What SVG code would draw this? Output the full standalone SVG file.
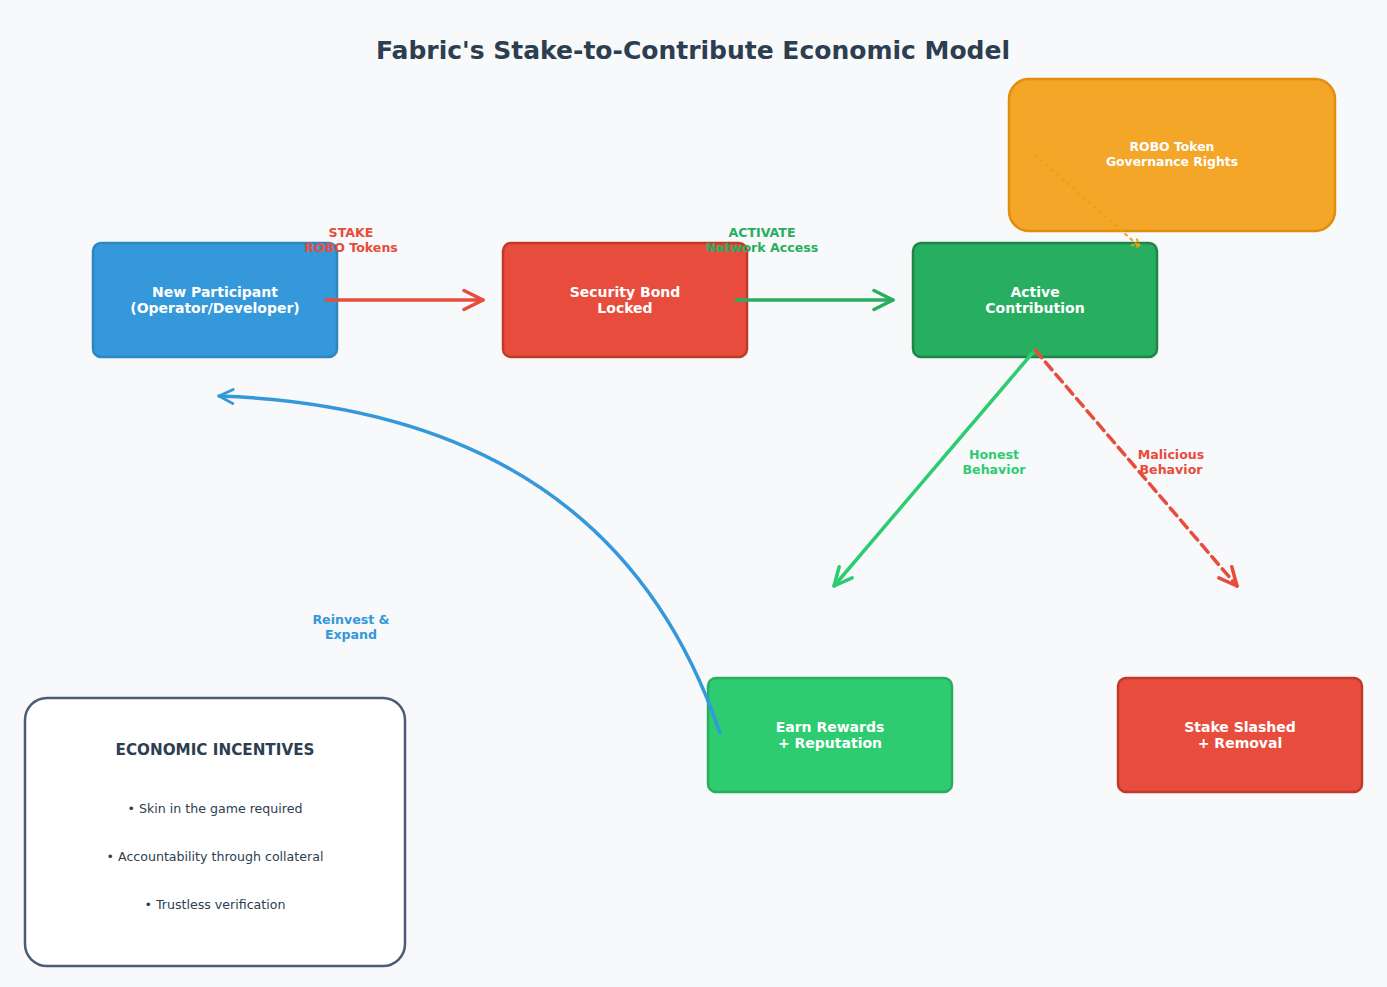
<svg xmlns="http://www.w3.org/2000/svg" width="1387" height="987" viewBox="0 0 1387 987">
<defs>
<style>
text{font-family:"DejaVu Sans","Liberation Sans",sans-serif;text-anchor:middle}
.title{font-size:25px;font-weight:bold;fill:#2c3e50}
.nt{font-size:14px;font-weight:bold;fill:#ffffff}
.lbl{font-size:12.6px;font-weight:bold}
.box{stroke-width:2.5}
.conn{fill:none;stroke-width:3.5;stroke-linecap:round}
.bul{font-size:12.6px;fill:#2c3e50}
</style>
<marker id="mRed" viewBox="0 0 24 24" refX="22" refY="12" markerWidth="24" markerHeight="24" markerUnits="userSpaceOnUse" orient="auto"><path d="M3,2.5 L22,12 L3,21.5" fill="none" stroke="#e74c3c" stroke-width="3.5" stroke-linecap="round" stroke-linejoin="round"/></marker>
<marker id="mGreen" viewBox="0 0 24 24" refX="22" refY="12" markerWidth="24" markerHeight="24" markerUnits="userSpaceOnUse" orient="auto"><path d="M3,2.5 L22,12 L3,21.5" fill="none" stroke="#27ae60" stroke-width="3.5" stroke-linecap="round" stroke-linejoin="round"/></marker>
<marker id="mLGreen" viewBox="0 0 24 24" refX="22" refY="12" markerWidth="24" markerHeight="24" markerUnits="userSpaceOnUse" orient="auto"><path d="M4,3.5 L22,12 L4,20.5" fill="none" stroke="#2ecc71" stroke-width="3.5" stroke-linecap="round" stroke-linejoin="round"/></marker>
<marker id="mRedD" viewBox="0 0 24 24" refX="22" refY="12" markerWidth="24" markerHeight="24" markerUnits="userSpaceOnUse" orient="auto"><path d="M4,3.5 L22,12 L4,20.5" fill="none" stroke="#e74c3c" stroke-width="3.5" stroke-linecap="round" stroke-linejoin="round"/></marker>
<marker id="mBlue" viewBox="0 0 20 20" refX="18" refY="10" markerWidth="20" markerHeight="20" markerUnits="userSpaceOnUse" orient="auto"><path d="M4,3 L18,10 L4,17" fill="none" stroke="#3498db" stroke-width="2.8" stroke-linecap="round" stroke-linejoin="round"/></marker>
<marker id="mOrange" viewBox="0 0 12 12" refX="10" refY="6" markerWidth="12" markerHeight="12" markerUnits="userSpaceOnUse" orient="auto"><path d="M2,2 L10,6 L2,10" fill="none" stroke="#f39c12" stroke-width="2" stroke-dasharray="3,2"/></marker>
</defs>
<rect x="0" y="0" width="1387" height="987" fill="#f8f9fa"/>
<text class="title" x="693" y="59">Fabric's Stake-to-Contribute Economic Model</text>

<g id="node-participant">
<rect class="box" x="93" y="243" width="244" height="114" rx="8" fill="#3498db" stroke="#2e86c1"/>
<text class="nt" x="215" y="297">New Participant</text>
<text class="nt" x="215" y="313">(Operator/Developer)</text>
</g>
<g id="node-bond">
<rect class="box" x="503" y="243" width="244" height="114" rx="8" fill="#e74c3c" stroke="#c0392b"/>
<text class="nt" x="625" y="297">Security Bond</text>
<text class="nt" x="625" y="313">Locked</text>
</g>
<g id="node-active">
<rect class="box" x="913" y="243" width="244" height="114" rx="8" fill="#27ae60" stroke="#1e8449"/>
<text class="nt" x="1035" y="297">Active</text>
<text class="nt" x="1035" y="313">Contribution</text>
</g>
<g id="node-robo">
<rect class="box" x="1009" y="79" width="326" height="152" rx="20" fill="#f39c12" fill-opacity="0.9" stroke="#e08e0b"/>
<text class="nt" x="1172" y="151" style="font-size:12.4px">ROBO Token</text>
<text class="nt" x="1172" y="166" style="font-size:12.4px">Governance Rights</text>
</g>
<g id="node-rewards">
<rect class="box" x="708" y="678" width="244" height="114" rx="8" fill="#2ecc71" stroke="#27ae60"/>
<text class="nt" x="830" y="732">Earn Rewards</text>
<text class="nt" x="830" y="748">+ Reputation</text>
</g>
<g id="node-slashed">
<rect class="box" x="1118" y="678" width="244" height="114" rx="8" fill="#e74c3c" stroke="#c0392b"/>
<text class="nt" x="1240" y="732">Stake Slashed</text>
<text class="nt" x="1240" y="748">+ Removal</text>
</g>
<g id="node-incentives">
<rect x="25" y="698" width="380" height="268" rx="22" fill="#ffffff" stroke="#4a5d73" stroke-width="2.5"/>
<text x="215" y="755" style="font-size:15.2px;font-weight:bold;fill:#2c3e50">ECONOMIC INCENTIVES</text>
<text class="bul" x="215" y="813">• Skin in the game required</text>
<text class="bul" x="215" y="861">• Accountability through collateral</text>
<text class="bul" x="215" y="909">• Trustless verification</text>
</g>

<g id="connectors">
<line class="conn" x1="326" y1="300" x2="483" y2="300" stroke="#e74c3c" marker-end="url(#mRed)"/>
<line class="conn" x1="736" y1="300" x2="893" y2="300" stroke="#27ae60" marker-end="url(#mGreen)"/>
<line class="conn" x1="1035" y1="350" x2="834" y2="586" stroke="#2ecc71" stroke-width="3" marker-end="url(#mLGreen)"/>
<line class="conn" x1="1035" y1="350" x2="1237" y2="586" stroke="#e74c3c" stroke-width="3" stroke-dasharray="10,6" stroke-linecap="butt" marker-end="url(#mRedD)"/>
<line x1="1035" y1="155" x2="1140" y2="247" stroke="#f39c12" stroke-width="2" stroke-dasharray="4,3" marker-end="url(#mOrange)"/>
<path class="conn" d="M720,733 Q610,410 219,396" stroke="#3498db" stroke-width="2.5" marker-end="url(#mBlue)"/>
<text class="lbl" x="351" y="237" fill="#e74c3c">STAKE</text>
<text class="lbl" x="351" y="252" fill="#e74c3c">ROBO Tokens</text>
<text class="lbl" x="762" y="237" fill="#27ae60">ACTIVATE</text>
<text class="lbl" x="762" y="252" fill="#27ae60">Network Access</text>
<text class="lbl" x="994" y="459" fill="#2ecc71">Honest</text>
<text class="lbl" x="994" y="474" fill="#2ecc71">Behavior</text>
<text class="lbl" x="1171" y="459" fill="#e74c3c">Malicious</text>
<text class="lbl" x="1171" y="474" fill="#e74c3c">Behavior</text>
<text class="lbl" x="351" y="624" fill="#3498db">Reinvest &amp;</text>
<text class="lbl" x="351" y="639" fill="#3498db">Expand</text>
</g>
</svg>
